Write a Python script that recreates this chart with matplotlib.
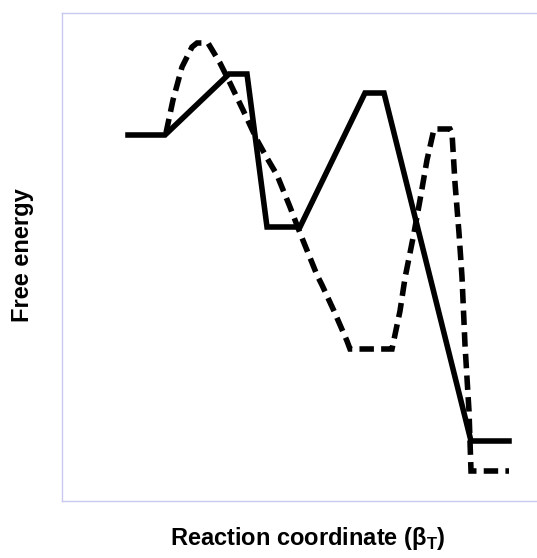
# free energy profile sketch: two reaction paths

import matplotlib
matplotlib.use('Agg')
import matplotlib.pyplot as plt

plt.rcParams['font.family'] = ['Liberation Sans', 'DejaVu Sans']
plt.rcParams['mathtext.fontset'] = 'custom'
plt.rcParams['mathtext.rm'] = 'Liberation Sans:bold'

# solid path (reaction coordinate, free energy)
solid_x = [66, 103, 167, 185, 205, 238, 303, 322, 409, 447]
solid_g = [366, 366, 427, 427, 274, 274, 408, 408, 60, 60]

# dashed path
dash_x = [104, 111, 120, 130, 135, 146, 158, 168, 181, 195, 205, 215, 228, 238,
          255, 260, 272, 285, 288, 330, 338, 343, 352, 358, 365, 372, 388, 390,
          393, 397, 400, 403, 407, 409, 447]
dash_g = [368, 401, 434, 454, 458, 458, 438, 418, 391, 361, 343, 326, 294, 268,
          226, 216, 190, 160, 152, 152, 190, 223, 268, 301, 341, 372, 372, 368,
          318, 268, 224, 156, 90, 30, 30]

fig = plt.figure(figsize=(5.37, 5.58), dpi=100)
ax = fig.add_axes([62 / 537, 57 / 558, 492 / 537, 488 / 558])

ax.plot(solid_x, solid_g, color='black', lw=4, solid_joinstyle='miter')
ax.plot(dash_x, dash_g, color='black', lw=4, dashes=(2.6, 1.3),
        dash_capstyle='butt', dash_joinstyle='miter')

ax.set_xlim(0, 492)
ax.set_ylim(0, 488)
ax.set_xticks([])
ax.set_yticks([])
for s in ax.spines.values():
    s.set_color('#c8c8f0')
    s.set_linewidth(1.0)

fig.text(22 / 537, 1 - 255 / 558, 'Free energy', rotation=90, ha='center',
         va='center', fontsize=17, fontweight='bold')
fig.text(308 / 537, 1 - 538 / 558, r'Reaction coordinate (β$_\mathregular{T}$)',
         ha='center', va='center', fontsize=17, fontweight='bold')

fig.savefig('out.png', dpi=100)
